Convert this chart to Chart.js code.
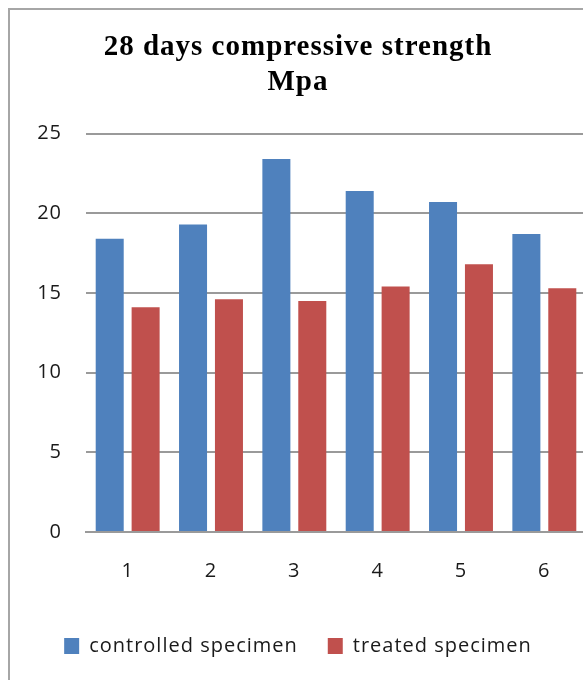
<!DOCTYPE html>
<html>
<head>
<meta charset="utf-8">
<script src="https://cdn.jsdelivr.net/npm/chart.js@4/dist/chart.umd.min.js"></script>
<style>
  html, body { margin: 0; padding: 0; overflow: hidden; background: #fff; }
  #frame {
    position: absolute; left: 8px; top: 8px;
    width: 590px; height: 690px;
    border: 2px solid #a6a6a6;
    background: #fff;
  }
  canvas { display: block; }
</style>
</head>
<body>
<div id="frame"><canvas id="c" width="590" height="670"></canvas></div>
<script>
// Specimen numbers along the x axis
const specimens = ['1', '2', '3', '4', '5', '6'];
// 28-day compressive strength (MPa)
const controlledStrength = [18.4, 19.3, 23.4, 21.4, 20.7, 18.7];
const treatedStrength = [14.1, 14.6, 14.5, 15.4, 16.8, 15.3];
const seriesNames = ['controlled specimen', 'treated specimen'];
const titleLines = ['28 days compressive strength', 'Mpa'];

const BLUE = '#4f81bd';
const RED = '#c0504d';
const GRID = '#9a9a9a';
const TEXT = '#1a1a1a';

// Slightly loose letter spacing for all canvas text
const spacing = {
  id: 'spacing',
  beforeUpdate(chart) { chart.ctx.letterSpacing = '1px'; },
  beforeDraw(chart) { chart.ctx.letterSpacing = '1px'; }
};

new Chart(document.getElementById('c'), {
  type: 'bar',
  data: {
    labels: specimens,
    datasets: [
      { label: seriesNames[0], data: controlledStrength, backgroundColor: BLUE,
        categoryPercentage: 0.862, barPercentage: 0.78 },
      { label: seriesNames[1], data: treatedStrength, backgroundColor: RED,
        categoryPercentage: 0.862, barPercentage: 0.78 }
    ]
  },
  options: {
    responsive: false,
    animation: false,
    layout: { padding: { left: 0, right: 14, top: 0, bottom: 14 } },
    plugins: {
      title: {
        display: true,
        text: titleLines,
        color: '#000',
        font: { family: '"Liberation Serif", "Times New Roman", serif', size: 29, weight: 'bold', lineHeight: 1.2 },
        padding: { top: 20, bottom: 34 }
      },
      legend: {
        position: 'bottom',
        labels: {
          color: TEXT,
          font: { family: '"Open Sans", sans-serif', size: 20 },
          boxWidth: 15,
          boxHeight: 16,
          padding: 30
        }
      },
      tooltip: { enabled: false }
    },
    scales: {
      x: {
        grid: { display: false, drawTicks: false },
        border: { display: true, color: GRID, width: 2 },
        ticks: { color: TEXT, font: { family: '"Open Sans", sans-serif', size: 20 }, padding: 27 },
        afterFit(scale) { scale.height -= 4; }
      },
      y: {
        min: 0, max: 25,
        ticks: { stepSize: 5, color: TEXT, font: { family: '"Open Sans", sans-serif', size: 20 }, padding: 24 },
        grid: { color: GRID, lineWidth: 2, drawTicks: false },
        border: { display: false },
        afterFit(scale) { scale.width = 76; }
      }
    }
  },
  plugins: [spacing]
});
</script>
</body>
</html>
